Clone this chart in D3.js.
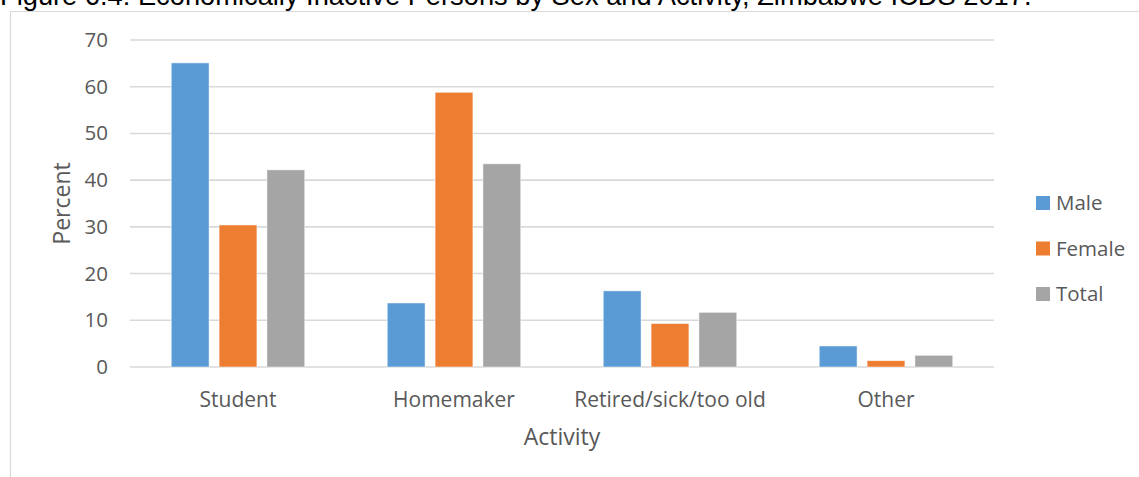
<!DOCTYPE html>
<html>
<head>
<meta charset="utf-8">
<script src="https://cdn.jsdelivr.net/npm/d3@7/dist/d3.min.js"></script>
<style>
  body { margin: 0; background: #fff; }
  text { font-family: "Open Sans", sans-serif; fill: #595959; }
</style>
</head>
<body>
<div id="chart"></div>
<script>
// chart data
var categories = ["Student", "Homemaker", "Retired/sick/too old", "Other"];
var seriesNames = ["Male", "Female", "Total"];
var male = [65.1, 13.7, 16.3, 4.5];
var female = [30.4, 58.8, 9.3, 1.35];
var total = [42.2, 43.5, 11.7, 2.5];
var yTicks = [0, 10, 20, 30, 40, 50, 60, 70];
var colors = ["#5b9bd5", "#ed7d31", "#a5a5a5"];

var svgWidth = 1139;
var svgHeight = 477;
var margin = {top: 40, left: 130, right: 145, bottom: 110};
var width = svgWidth - margin.left - margin.right;
var height = svgHeight - margin.top - margin.bottom;

var svg = d3.select("#chart")
  .append("svg")
  .attr("width", svgWidth)
  .attr("height", svgHeight);

// chart frame (top + left edges visible)
svg.append("path")
  .attr("d", "M10.5," + svgHeight + "V11.5H" + svgWidth)
  .attr("fill", "none")
  .attr("stroke", "#d9d9d9")
  .attr("stroke-width", 1.2);

// title, partly cut at the top like the source
var title = svg.append("text")
  .attr("x", 0)
  .attr("y", 5)
  .style("font-family", "'Liberation Sans', Arial, sans-serif")
  .style("fill", "#000")
  .style("font-size", "20px")
  .text("Figure 6.4: Economically Inactive Persons by Sex and Activity, Zimbabwe ICDS 2017.");
var tw = title.node().getComputedTextLength();
title.style("font-size", (20 * 1032 / tw) + "px");

var chartGroup = svg.append("g")
  .attr("transform", `translate(${margin.left}, ${margin.top})`);

var yScale = d3.scaleLinear()
  .domain([0, 70])
  .range([height, 0]);

var x0 = d3.scaleBand()
  .domain(categories)
  .range([0, width]);

var groupPad = x0.bandwidth() * 0.191;
var x1 = d3.scaleBand()
  .domain(seriesNames)
  .range([groupPad, x0.bandwidth() - groupPad])
  .paddingInner(0.21)
  .paddingOuter(0);

// gridlines
chartGroup.append("g")
  .selectAll("line")
  .data(yTicks)
  .enter()
  .append("line")
  .attr("x1", 0)
  .attr("x2", width)
  .attr("y1", d => yScale(d))
  .attr("y2", d => yScale(d))
  .attr("stroke", "#d9d9d9")
  .attr("stroke-width", 1.6);

// y axis labels
var leftAxis = d3.axisLeft(yScale).tickValues(yTicks).tickSize(0).tickPadding(22);
var yAxis = chartGroup.append("g").call(leftAxis);
yAxis.select(".domain").remove();
yAxis.selectAll("text")
  .attr("font-family", null)
  .style("font-size", "20.5px")
  .style("fill", "#595959");

// bars
var rows = categories.map(function(c, i) {
  return {cat: c, values: [male[i], female[i], total[i]]};
});

var groups = chartGroup.selectAll("g.cat")
  .data(rows)
  .enter()
  .append("g")
  .attr("class", "cat")
  .attr("transform", d => `translate(${x0(d.cat)},0)`);

groups.selectAll("rect")
  .data(d => d.values.map((v, j) => ({name: seriesNames[j], value: v, j: j})))
  .enter()
  .append("rect")
  .attr("x", d => x1(d.name))
  .attr("width", x1.bandwidth())
  .attr("y", d => yScale(d.value))
  .attr("height", d => height - yScale(d.value))
  .attr("fill", d => colors[d.j])
  .attr("stroke", "#fff")
  .attr("stroke-opacity", 0.6)
  .attr("stroke-width", 0.8);

// category labels
var bottomAxis = d3.axisBottom(x0).tickSize(0);
var xAxis = chartGroup.append("g")
  .attr("transform", `translate(0, ${height})`)
  .call(bottomAxis);
xAxis.select(".domain").remove();
xAxis.selectAll("text")
  .attr("font-family", null)
  .attr("y", 40)
  .attr("dy", 0)
  .style("font-size", "21px")
  .style("fill", "#595959");

// axis titles
chartGroup.append("text")
  .attr("x", width / 2)
  .attr("y", height + 78)
  .attr("text-anchor", "middle")
  .style("font-size", "23px")
  .text("Activity");

chartGroup.append("text")
  .attr("transform", "rotate(-90)")
  .attr("x", -(yScale(35)))
  .attr("y", -60)
  .attr("text-anchor", "middle")
  .style("font-size", "23px")
  .text("Percent");

// legend
var legend = svg.append("g")
  .attr("transform", "translate(1036, 196)");

var items = legend.selectAll("g")
  .data(seriesNames)
  .enter()
  .append("g")
  .attr("transform", (d, i) => `translate(0, ${i * 45.5})`);

items.append("rect")
  .attr("width", 14)
  .attr("height", 14)
  .attr("fill", (d, i) => colors[i]);

items.append("text")
  .attr("x", 20)
  .attr("y", 14)
  .style("font-size", "20.5px")
  .text(d => d);
</script>
</body>
</html>
